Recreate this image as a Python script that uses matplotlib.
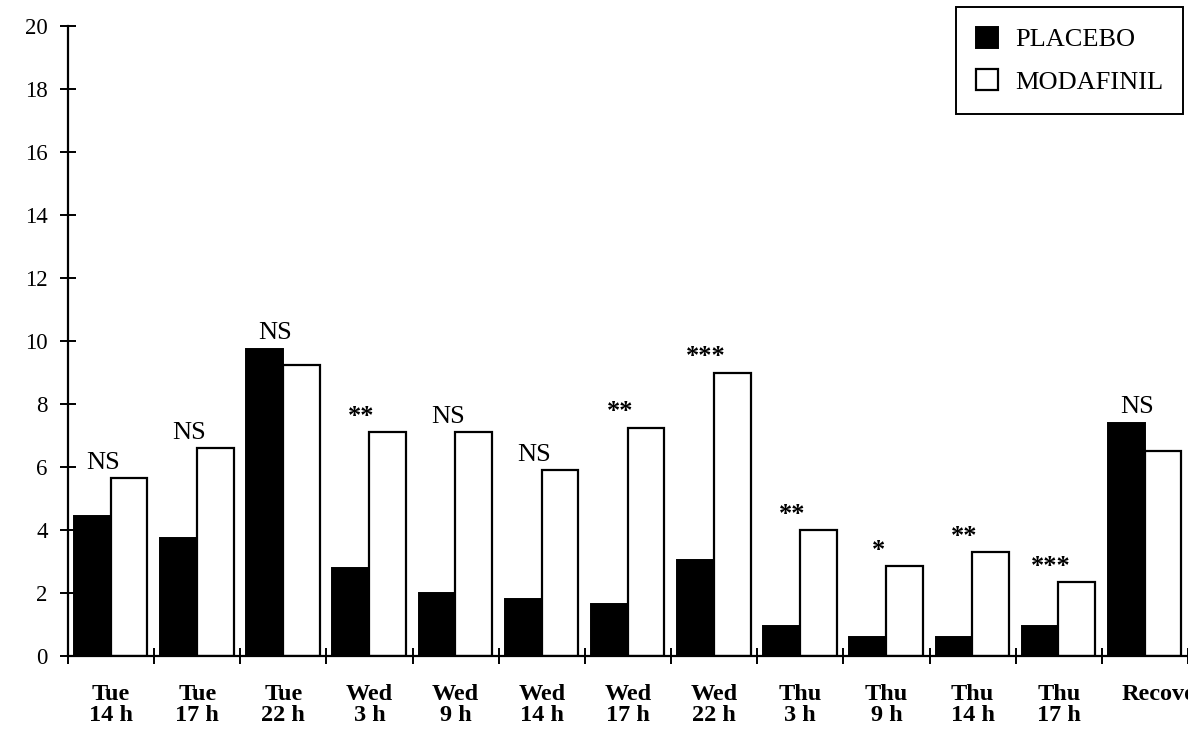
import numpy as np
import matplotlib
matplotlib.use("Agg")
import matplotlib.pyplot as plt
from matplotlib.transforms import ScaledTranslation

plt.rcParams["font.family"] = ["Liberation Serif", "DejaVu Serif"]

# values
days = ["Tue", "Tue", "Tue", "Wed", "Wed", "Wed", "Wed", "Wed",
        "Thu", "Thu", "Thu", "Thu", "Recovery"]
hours = ["14 h", "17 h", "22 h", "3 h", "9 h", "14 h", "17 h", "22 h",
         "3 h", "9 h", "14 h", "17 h", ""]
placebo = [4.45, 3.75, 9.75, 2.8, 2.0, 1.8, 1.65, 3.05, 0.95, 0.6, 0.6, 0.95, 7.4]
modafinil = [5.65, 6.6, 9.25, 7.1, 7.1, 5.9, 7.25, 9.0, 4.0, 2.85, 3.3, 2.35, 6.5]
signif = ["NS", "NS", "NS", "**", "NS", "NS", "**", "***", "**", "*", "**", "***", "NS"]

n = len(days)
g = np.arange(n)
w = 0.426
off = 0.07

fig = plt.figure(figsize=(11.88, 7.34), dpi=100)
ax = fig.add_axes([68 / 1188, 78 / 734, 1 - 68 / 1188, 630 / 734])

b1 = ax.bar(g + off, placebo, width=w, align="edge", color="black",
            edgecolor="black", linewidth=1.4, label="PLACEBO")
b2 = ax.bar(g + off + w, modafinil, width=w, align="edge", color="white",
            edgecolor="black", linewidth=1.6, label="MODAFINIL")

# significance marks over each pair
for i, s in enumerate(signif):
    top = max(placebo[i], modafinil[i])
    ax.text(g[i] + off + w - 0.09, top + 0.3, s, ha="center", va="baseline",
            fontsize=19, fontweight="bold" if "*" in s else "normal")

ax.set_ylim(0, 20)
ax.set_xlim(0, (1188 - 68) / 86.75)
ax.set_yticks(np.arange(0, 21, 2))
ax.tick_params(axis="y", direction="inout", length=11, width=1.4,
               labelsize=16.5, pad=9)

ax.set_xticks(np.arange(0, n + 1))
ax.set_xticklabels([])
ax.tick_params(axis="x", which="major", direction="inout", length=12, width=1.4)
ax.set_xticks(g + 0.5, minor=True)
ax.set_xticklabels([f"{d}\n{h}" if h else d for d, h in zip(days, hours)],
                   minor=True, fontsize=17.5, fontweight="bold")
ax.tick_params(axis="x", which="minor", length=0, pad=20)
for lab in ax.get_xticklabels(minor=True):
    lab.set_linespacing(1.0)
# the last label runs off the right edge in the original scan
last = ax.get_xticklabels(minor=True)[-1]
last.set_transform(last.get_transform() + ScaledTranslation(0.25, 0, fig.dpi_scale_trans))

for side in ("top", "right"):
    ax.spines[side].set_visible(False)
for side in ("left", "bottom"):
    ax.spines[side].set_linewidth(1.6)

leg = ax.legend(handles=[b1, b2], loc="upper right",
                bbox_to_anchor=(1183 / 1188, 1 - 7 / 734),
                bbox_transform=fig.transFigure, fontsize=19,
                frameon=True, fancybox=False, framealpha=1,
                handlelength=0.85, handleheight=0.85, handletextpad=0.65,
                labelspacing=0.68, borderpad=0.75, borderaxespad=0)
leg.get_frame().set_edgecolor("black")
leg.get_frame().set_linewidth(1.4)

fig.savefig("out.png", dpi=100)
